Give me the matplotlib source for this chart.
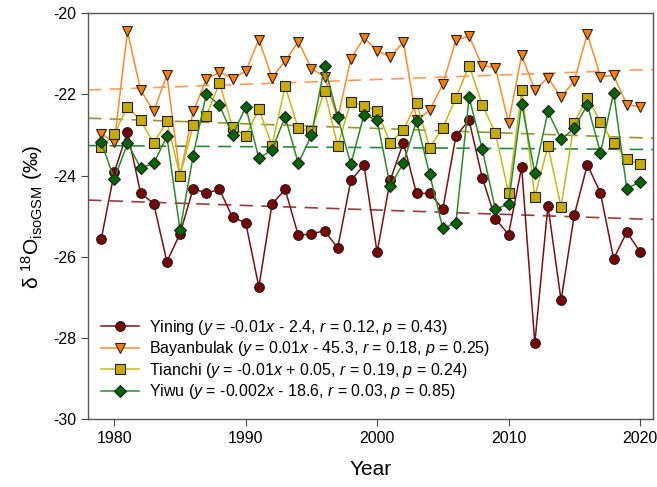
import numpy as np
import matplotlib
matplotlib.use('Agg')
import matplotlib.pyplot as plt

plt.rcParams['font.family'] = ['Liberation Sans', 'DejaVu Sans']
plt.rcParams['mathtext.fontset'] = 'custom'
plt.rcParams['mathtext.rm'] = 'Liberation Sans'
plt.rcParams['mathtext.it'] = 'Liberation Sans:italic'
plt.rcParams['axes.unicode_minus'] = False

years = list(range(1979, 2021))

yining = [-25.57, -23.92, -22.92, -24.43, -24.69, -26.12, -25.43, -24.32, -24.43, -24.34,
          -25.03, -25.16, -26.74, -24.70, -24.34, -25.47, -25.43, -25.36, -25.78, -24.12,
          -23.74, -25.89, -24.11, -23.19, -24.44, -24.44, -24.82, -23.02, -22.64, -24.05,
          -25.06, -25.45, -23.79, -28.13, -24.74, -27.07, -24.98, -23.73, -24.43, -26.05,
          -25.39, -25.87]
bayanbulak = [-22.97, -23.17, -20.45, -21.89, -22.42, -21.52, -24.00, -22.42, -21.63, -21.45,
              -21.61, -21.43, -20.65, -21.59, -21.18, -20.70, -21.37, -21.56, -22.60, -21.12,
              -20.61, -20.92, -21.08, -20.71, -22.64, -22.39, -21.75, -20.66, -20.57, -21.29,
              -21.34, -22.70, -21.04, -21.89, -21.59, -22.07, -21.67, -20.51, -21.56, -21.53,
              -22.25, -22.31]
tianchi = [-23.30, -22.98, -22.30, -22.64, -23.20, -22.66, -24.01, -22.76, -22.53, -21.72,
           -22.81, -23.02, -22.36, -23.26, -21.80, -22.84, -22.89, -21.92, -23.27, -22.18,
           -22.28, -22.40, -23.20, -22.87, -22.21, -23.31, -22.82, -22.09, -21.29, -22.25,
           -22.95, -24.42, -21.90, -24.52, -23.27, -24.77, -22.70, -22.08, -22.68, -23.20,
           -23.60, -23.72]
yiwu = [-23.17, -24.09, -23.20, -23.81, -23.70, -23.03, -25.34, -23.51, -21.99, -22.26,
        -23.01, -22.31, -23.57, -23.37, -22.55, -23.70, -23.01, -21.30, -22.55, -23.72,
        -22.50, -22.64, -24.26, -23.69, -22.66, -23.97, -25.30, -25.16, -22.07, -23.35,
        -24.83, -24.70, -22.23, -23.93, -22.42, -23.11, -22.84, -22.25, -23.44, -21.96,
        -24.32, -24.16]

names = ['Yining ($y$ = -0.01$x$ - 2.4, $r$ = 0.12, $p$ = 0.43)',
         'Bayanbulak ($y$ = 0.01$x$ - 45.3, $r$ = 0.18, $p$ = 0.25)',
         'Tianchi ($y$ = -0.01$x$ + 0.05, $r$ = 0.19, $p$ = 0.24)',
         'Yiwu ($y$ = -0.002$x$ - 18.6, $r$ = 0.03, $p$ = 0.85)']
series = [yining, bayanbulak, tianchi, yiwu]
markers = ['o', 'v', 's', 'D']
sizes = [7, 7.5, 6.5, 6.3]
line_colors = ['#7a1010', '#ff8a2a', '#c8b818', '#2a8a2a']
face_colors = ['#7a0000', '#ff8000', '#c8aa00', '#006400']
trend_colors = ['#9a3a3a', '#ff9a5a', '#9a9430', '#2a8a3a']


def main():
    fig, ax = plt.subplots(figsize=(6.57, 4.87), dpi=100)
    fig.subplots_adjust(left=0.134, right=0.994, top=0.973, bottom=0.139)
    x = np.array(years)
    xx = np.array([1978, 2021])
    for vals, lc, tc in zip(series, line_colors, trend_colors):
        k, b = np.polyfit(x, np.array(vals), 1)
        ax.plot(xx, k * xx + b, color=tc, lw=1.2, ls=(0, (8, 5)), zorder=1)
    for vals, name, m, s, lc, fc in zip(series, names, markers, sizes, line_colors, face_colors):
        ax.plot(x, vals, color=lc, lw=1.1, marker=m, ms=s, mfc=fc, mec='#222222',
                mew=0.8, label=name, zorder=2)

    ax.set_xlim(1978, 2021)
    ax.set_ylim(-30, -20)
    ax.set_xticks([1980, 1990, 2000, 2010, 2020])
    ax.set_yticks(np.arange(-30, -19, 2))
    ax.tick_params(direction='out', labelsize=11.5, length=5, color='#444444')
    for sp in ax.spines.values():
        sp.set_color('#555555')
        sp.set_linewidth(1.0)
    ax.set_xlabel('Year', fontsize=15, labelpad=10)
    ax.set_ylabel('δ $^{18}$O$_{\\mathrm{isoGSM}}$ (‰)', fontsize=15, labelpad=6)
    ax.legend(loc='lower left', bbox_to_anchor=(0.0, 0.013), frameon=False,
              fontsize=11.5, handlelength=2.4, handletextpad=0.6, labelspacing=0.15,
              borderaxespad=0.4)
    fig.savefig('out.png', dpi=100)

main()
